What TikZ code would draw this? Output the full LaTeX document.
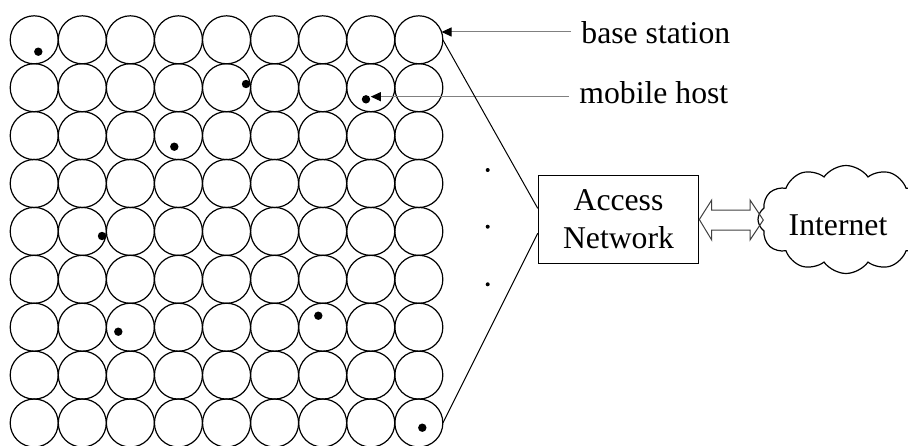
\documentclass[tikz,border=0pt]{standalone}
\usepackage{fontspec}
\setmainfont{Liberation Serif}
\usetikzlibrary{arrows.meta,shapes.symbols}
\begin{document}
\begin{tikzpicture}[x=0.5pt,y=-0.5pt,
  cell/.style={circle,draw,line width=0.6pt,inner sep=0pt,outer sep=0pt,minimum size=24pt},
  host/.style={circle,fill,inner sep=0pt,minimum size=4.2pt},
  gapdot/.style={circle,fill,inner sep=0pt,minimum size=2pt},
  txt/.style={font=\fontsize{15.85pt}{19.15pt}\selectfont},
  lbl/.style={txt,inner xsep=5pt,inner ysep=0pt},
  pointer/.style={draw=gray,line width=0.5pt,-{Triangle[length=5pt,width=4.5pt,color=black]}},
  link/.style={line width=0.5pt},
  netbox/.style={txt,draw,line width=0.6pt,minimum width=80.2pt,minimum height=43.8pt,align=center,inner sep=0pt},
  bigarrow/.style={draw=black!75,line width=0.5pt,line join=miter}
]
\useasboundingbox (0,0) rectangle (908,445);
\clip (0,0) rectangle (908,445);

% cellular grid of base stations
\foreach \i in {0,...,8}
  \foreach \j in {0,...,8}
    \node[cell] (c-\i-\j) at ({34.2+48.08*\i},{39.8+47.9*\j}) {};

% mobile hosts
\node[host] (m1) at (38.3,51.7) {};
\node[host] (m2) at (246,84) {};
\node[host] (m3) at (366,99.3) {};
\node[host] (m4) at (174.3,146.7) {};
\node[host] (m5) at (102,236) {};
\node[host] (m6) at (118.3,331.7) {};
\node[host] (m7) at (318.3,315.7) {};
\node[host] (m8) at (422.3,427.7) {};

% labels with pointers
\node[lbl,anchor=base west] (bs) at (571,43.3) {base station};
\node[lbl,anchor=base west] (mh) at (569,103.3) {mobile host};
\draw[pointer] (bs.west |- c-8-0.19) -- (c-8-0.19);
\draw[pointer,shorten >=0.5pt] (mh.west |- m3.35) -- (m3.35);

% vertical ellipsis
\node[gapdot] (e1) at (487.7,170) {};
\node[gapdot] (e2) at (487.7,226.7) {};
\node[gapdot] (e3) at (487.7,284.3) {};

% access network
\node[netbox] (an) at (618.5,219.5) {Access\\Network};
\draw[link] (c-8-0.east) -- ([yshift=5.6pt]an.west);
\draw[link] (c-8-8.east) -- ([yshift=-6.9pt]an.west);

% internet cloud, running off the right edge
\node[cloud,draw,line width=0.6pt,cloud puffs=12,cloud puff arc=110,aspect=1.7,
      minimum width=88pt,minimum height=54pt,inner sep=0pt] (net) at (846,219.5) {};
\node[txt,anchor=base,inner sep=0pt] (nettxt) at (838,235.7) {Internet};

% two-way block arrow
\draw[bigarrow] (an.east) -- (711.7,200) -- (711.7,210) -- (750,210) -- (750,200)
  -- (763.3,220) -- (750,240) -- (750,230) -- (711.7,230) -- (711.7,240) -- cycle;
\end{tikzpicture}
\end{document}
